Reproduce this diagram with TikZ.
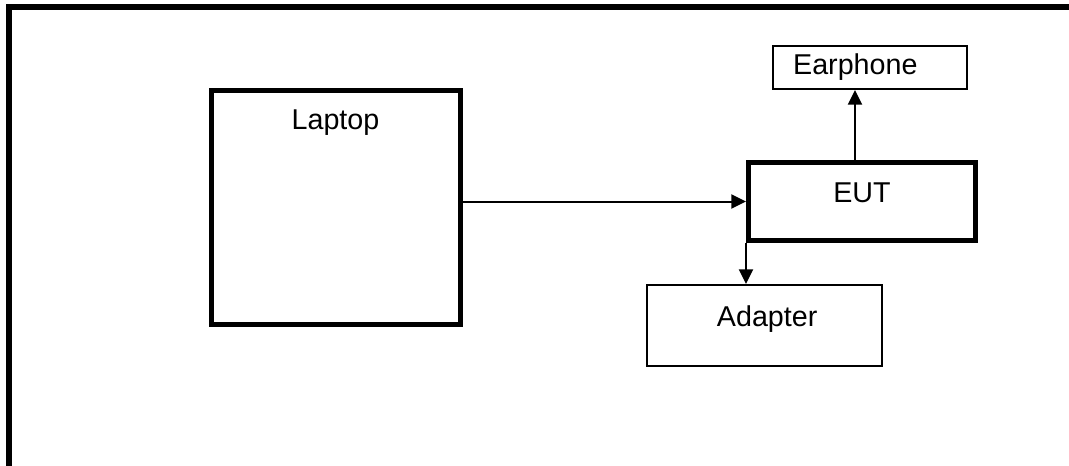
\documentclass[tikz,border=0pt]{standalone}
\usepackage{fontspec}
\setmainfont{Liberation Sans}
\usetikzlibrary{arrows.meta,positioning}
\definecolor{ink}{HTML}{000000}
\tikzset{
  >={Triangle[length=11pt,width=10.5pt]},
  every node/.style={font=\fontsize{21.5}{26}\selectfont,text=ink},
  heavybox/.style={draw=ink,line width=3.75pt,fill=white,inner sep=0pt},
  lightbox/.style={draw=ink,line width=1.5pt,fill=white,inner sep=0pt},
  frameline/.style={draw=ink,line width=4pt},
  arrow/.style={->,line width=1.5pt,draw=ink},
  caption/.style={anchor=base,yshift=-31.5pt},
}

\begin{document}
\begin{tikzpicture}[x=0.75pt,y=-0.75pt]
\useasboundingbox (0,0) rectangle (1069,465);

% outer frame, only top and left edge visible
\draw[frameline] (9,470) -- (9,7) -- (1075,7);

\node[heavybox,minimum width=186.75pt,minimum height=175.5pt,label={[caption]north:Laptop}] (laptop) at (335.5,207) {};
\node[heavybox,minimum width=170.25pt,minimum height=58.5pt,label={[caption]north:EUT}] (eut) at (862,201.5) {};
\node[lightbox,minimum width=145.5pt,minimum height=32.25pt,label={[caption,yshift=9.75pt,xshift=-11pt]north:Earphone}] (earphone) at (870,67.5) {};
\node[lightbox,minimum width=176.25pt,minimum height=60.75pt,label={[caption,xshift=2pt]north:Adapter}] (adapter) at (764.5,325.5) {};

% links
\draw[arrow] (eut.west -| laptop.east) -- (eut.west);
\draw[arrow] ([xshift=-5.25pt]eut.north) -- ([xshift=-5.25pt]eut.north |- earphone.south);
\draw[arrow] (eut.south west) -- (eut.south west |- adapter.north);

\end{tikzpicture}
\end{document}
